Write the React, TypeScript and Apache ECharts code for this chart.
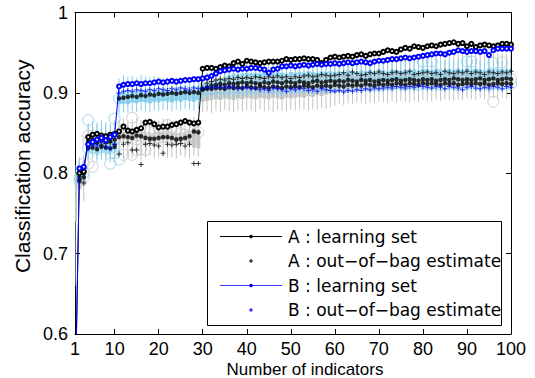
import React, { useEffect, useRef } from "react";
import * as echarts from "echarts";

const X = Array.from({ length: 100 }, (_, i) => i + 1);

const xTicks = [1, 10, 20, 30, 40, 50, 60, 70, 80, 90, 100];

const legendLabels = [
  "A : learning set",
  "A : out\u2212of\u2212bag estimate",
  "B : learning set",
  "B : out\u2212of\u2212bag estimate",
];

// A : learning set
const aLearn = [
  0.5, 0.8, 0.802, 0.845, 0.848, 0.849, 0.847, 0.846, 0.848, 0.849,
  0.852, 0.858, 0.853, 0.852, 0.854, 0.856, 0.863, 0.864, 0.861, 0.857,
  0.858, 0.858, 0.86, 0.861, 0.863, 0.865, 0.863, 0.862, 0.863, 0.93,
  0.931, 0.931, 0.93, 0.932, 0.934, 0.933, 0.937, 0.939, 0.936, 0.94,
  0.939, 0.938, 0.937, 0.938, 0.939, 0.939, 0.939, 0.94, 0.942, 0.941,
  0.942, 0.942, 0.943, 0.942, 0.942, 0.941, 0.937, 0.941, 0.944, 0.945,
  0.944, 0.945, 0.946, 0.945, 0.947, 0.948, 0.946, 0.948, 0.949, 0.949,
  0.951, 0.953, 0.952, 0.951, 0.954, 0.956, 0.955, 0.958, 0.957, 0.956,
  0.958, 0.959, 0.958, 0.96, 0.961, 0.962, 0.963, 0.961, 0.962, 0.958,
  0.961, 0.957, 0.959, 0.96, 0.959, 0.958, 0.959, 0.961, 0.961, 0.96,
];

// B : learning set
const bLearn = [
  0.5, 0.806, 0.808, 0.836, 0.839, 0.842, 0.844, 0.841, 0.845, 0.848,
  0.908, 0.91, 0.911, 0.911, 0.912, 0.911, 0.912, 0.912, 0.913, 0.914,
  0.913, 0.914, 0.915, 0.914, 0.915, 0.916, 0.916, 0.917, 0.917, 0.918,
  0.919, 0.921, 0.924, 0.927, 0.928, 0.929, 0.93, 0.929, 0.93, 0.93,
  0.931, 0.931, 0.93, 0.929, 0.925, 0.929, 0.93, 0.933, 0.933, 0.934,
  0.933, 0.934, 0.935, 0.934, 0.935, 0.936, 0.935, 0.936, 0.936, 0.937,
  0.936, 0.937, 0.938, 0.937, 0.938, 0.939, 0.938, 0.937, 0.939, 0.94,
  0.94, 0.941, 0.942, 0.942, 0.943, 0.944, 0.943, 0.944, 0.945, 0.946,
  0.947, 0.948, 0.949, 0.949, 0.948, 0.95, 0.951, 0.953, 0.952, 0.951,
  0.952, 0.952, 0.951, 0.952, 0.947, 0.953, 0.955, 0.955, 0.955, 0.955,
];

// A : out-of-bag estimate
const aOob = [
  null, 0.792, 0.788, 0.838, 0.836, 0.839, 0.835, 0.837, 0.838, 0.836,
  0.824, 0.836, 0.838, 0.829, 0.829, 0.811, 0.836, 0.837, 0.835, 0.834,
  0.825, 0.836, 0.835, 0.836, 0.837, 0.834, 0.836, 0.812, 0.812, 0.918,
  0.912, 0.914, 0.916, 0.917, 0.916, 0.918, 0.917, 0.919, 0.918, 0.919,
  0.918, 0.92, 0.919, 0.918, 0.92, 0.919, 0.921, 0.919, 0.92, 0.918,
  0.92, 0.919, 0.921, 0.922, 0.92, 0.921, 0.923, 0.922, 0.921, 0.922,
  0.923, 0.925, 0.922, 0.926, 0.924, 0.922, 0.923, 0.925, 0.924, 0.926,
  0.924, 0.923, 0.925, 0.926, 0.924, 0.925, 0.927, 0.923, 0.924, 0.925,
  0.926, 0.924, 0.925, 0.923, 0.927, 0.925, 0.924, 0.926, 0.925, 0.927,
  0.924, 0.926, 0.925, 0.923, 0.926, 0.925, 0.924, 0.926, 0.925, 0.927,
];

// B : out-of-bag estimate
const bOob = [
  null, 0.804, 0.806, 0.832, 0.835, 0.834, 0.838, 0.833, 0.831, 0.836,
  0.9, 0.902, 0.903, 0.902, 0.904, 0.903, 0.902, 0.904, 0.903, 0.905,
  0.904, 0.903, 0.905, 0.904, 0.906, 0.905, 0.904, 0.906, 0.905, 0.906,
  0.907, 0.906, 0.908, 0.907, 0.906, 0.908, 0.907, 0.905, 0.906, 0.907,
  0.905, 0.906, 0.904, 0.905, 0.903, 0.906, 0.905, 0.904, 0.902, 0.905,
  0.904, 0.906, 0.905, 0.903, 0.904, 0.902, 0.905, 0.904, 0.903, 0.902,
  0.903, 0.901, 0.903, 0.902, 0.904, 0.903, 0.905, 0.904, 0.906, 0.905,
  0.906, 0.907, 0.906, 0.908, 0.907, 0.906, 0.908, 0.907, 0.909, 0.908,
  0.907, 0.906, 0.908, 0.907, 0.905, 0.908, 0.907, 0.906, 0.904, 0.907,
  0.908, 0.906, 0.905, 0.907, 0.906, 0.908, 0.907, 0.905, 0.908, 0.907,
];

// A box plots (grey): median, whisker low, box low, box high, whisker high
const aMed = [
  null, 0.79, 0.795, 0.84, 0.842, 0.838, 0.841, 0.843, 0.84, 0.842,
  0.845, 0.846, 0.845, 0.844, 0.847, 0.846, 0.844, 0.843, 0.843, 0.844,
  0.845, 0.845, 0.844, 0.842, 0.843, 0.844, 0.846, 0.852, 0.851, 0.905,
  0.907, 0.909, 0.91, 0.911, 0.91, 0.912, 0.911, 0.912, 0.913, 0.912,
  0.913, 0.912, 0.911, 0.913, 0.912, 0.914, 0.913, 0.912, 0.914, 0.913,
  0.912, 0.914, 0.913, 0.912, 0.914, 0.915, 0.913, 0.914, 0.915, 0.914,
  0.915, 0.914, 0.916, 0.915, 0.914, 0.916, 0.915, 0.916, 0.914, 0.915,
  0.916, 0.915, 0.916, 0.917, 0.915, 0.916, 0.917, 0.916, 0.915, 0.917,
  0.916, 0.917, 0.915, 0.916, 0.917, 0.916, 0.918, 0.917, 0.916, 0.917,
  0.916, 0.917, 0.918, 0.916, 0.917, 0.918, 0.916, 0.917, 0.918, 0.917,
];
const aLo = [
  0.66, 0.765, 0.765, 0.82, 0.822, 0.818, 0.821, 0.82, 0.823, 0.819,
  0.82, 0.818, 0.822, 0.819, 0.821, 0.817, 0.82, 0.822, 0.818, 0.82,
  0.821, 0.819, 0.82, 0.818, 0.822, 0.82, 0.819, 0.822, 0.82, 0.876,
  0.877, 0.875, 0.878, 0.876, 0.879, 0.877, 0.876, 0.878, 0.877, 0.879,
  0.878, 0.876, 0.879, 0.877, 0.878, 0.876, 0.879, 0.878, 0.877, 0.879,
  0.878, 0.88, 0.879, 0.878, 0.88, 0.879, 0.881, 0.88, 0.882, 0.884,
  0.886, 0.885, 0.887, 0.886, 0.888, 0.887, 0.886, 0.888, 0.887, 0.889,
  0.888, 0.887, 0.889, 0.888, 0.89, 0.889, 0.888, 0.89, 0.889, 0.891,
  0.89, 0.889, 0.891, 0.89, 0.892, 0.891, 0.89, 0.892, 0.891, 0.893,
  0.892, 0.891, 0.893, 0.892, 0.894, 0.893, 0.892, 0.894, 0.893, 0.895,
];
const aQ1 = [
  0.74, 0.78, 0.785, 0.836, 0.838, 0.834, 0.837, 0.839, 0.836, 0.838,
  0.841, 0.842, 0.841, 0.84, 0.843, 0.842, 0.84, 0.839, 0.839, 0.84,
  0.841, 0.841, 0.84, 0.838, 0.839, 0.84, 0.838, 0.832, 0.831, 0.889,
  0.89, 0.891, 0.892, 0.891, 0.893, 0.892, 0.891, 0.893, 0.892, 0.894,
  0.893, 0.892, 0.894, 0.893, 0.892, 0.894, 0.893, 0.892, 0.894, 0.893,
  0.894, 0.895, 0.894, 0.896, 0.895, 0.897, 0.896, 0.898, 0.899, 0.9,
  0.901, 0.902, 0.901, 0.903, 0.902, 0.904, 0.903, 0.902, 0.904, 0.903,
  0.904, 0.905, 0.904, 0.906, 0.905, 0.904, 0.906, 0.905, 0.906, 0.907,
  0.906, 0.907, 0.906, 0.908, 0.907, 0.906, 0.908, 0.907, 0.906, 0.908,
  0.907, 0.908, 0.907, 0.906, 0.908, 0.907, 0.908, 0.907, 0.906, 0.908,
];
const aQ3 = [
  0.79, 0.8, 0.802, 0.846, 0.847, 0.843, 0.846, 0.848, 0.845, 0.847,
  0.85, 0.851, 0.85, 0.849, 0.852, 0.851, 0.849, 0.848, 0.848, 0.849,
  0.85, 0.85, 0.849, 0.847, 0.848, 0.849, 0.851, 0.856, 0.855, 0.906,
  0.907, 0.906, 0.908, 0.907, 0.909, 0.908, 0.907, 0.909, 0.908, 0.91,
  0.909, 0.908, 0.91, 0.909, 0.908, 0.91, 0.909, 0.908, 0.91, 0.909,
  0.91, 0.911, 0.91, 0.912, 0.911, 0.913, 0.912, 0.914, 0.915, 0.916,
  0.917, 0.918, 0.917, 0.919, 0.918, 0.92, 0.919, 0.918, 0.92, 0.919,
  0.92, 0.921, 0.92, 0.922, 0.921, 0.92, 0.922, 0.921, 0.922, 0.923,
  0.922, 0.923, 0.922, 0.924, 0.923, 0.922, 0.924, 0.923, 0.922, 0.924,
  0.923, 0.924, 0.923, 0.922, 0.924, 0.923, 0.924, 0.923, 0.922, 0.924,
];
const aHi = [
  0.8, 0.812, 0.815, 0.862, 0.858, 0.86, 0.863, 0.861, 0.859, 0.862,
  0.866, 0.868, 0.865, 0.867, 0.869, 0.866, 0.868, 0.865, 0.867, 0.866,
  0.868, 0.867, 0.865, 0.866, 0.868, 0.867, 0.866, 0.87, 0.868, 0.922,
  0.924, 0.923, 0.925, 0.924, 0.926, 0.925, 0.924, 0.926, 0.925, 0.927,
  0.926, 0.925, 0.927, 0.926, 0.925, 0.927, 0.926, 0.925, 0.927, 0.926,
  0.928, 0.929, 0.928, 0.93, 0.929, 0.931, 0.93, 0.932, 0.933, 0.935,
  0.937, 0.939, 0.938, 0.94, 0.941, 0.942, 0.941, 0.943, 0.942, 0.944,
  0.943, 0.945, 0.944, 0.946, 0.945, 0.944, 0.946, 0.947, 0.946, 0.948,
  0.947, 0.949, 0.948, 0.947, 0.949, 0.948, 0.95, 0.949, 0.948, 0.95,
  0.949, 0.95, 0.949, 0.948, 0.95, 0.949, 0.95, 0.949, 0.948, 0.95,
];

// B box plots (light blue)
const bMed = [
  null, 0.795, 0.8, 0.831, 0.832, 0.83, 0.833, 0.832, 0.831, 0.833,
  0.893, 0.894, 0.895, 0.896, 0.895, 0.897, 0.896, 0.898, 0.897, 0.899,
  0.898, 0.899, 0.9, 0.899, 0.9, 0.901, 0.9, 0.901, 0.9, 0.904,
  0.905, 0.905, 0.906, 0.906, 0.905, 0.907, 0.906, 0.907, 0.906, 0.908,
  0.907, 0.906, 0.908, 0.907, 0.906, 0.908, 0.907, 0.906, 0.908, 0.907,
  0.908, 0.907, 0.909, 0.908, 0.907, 0.909, 0.908, 0.909, 0.908, 0.91,
  0.909, 0.908, 0.91, 0.909, 0.91, 0.909, 0.911, 0.91, 0.909, 0.911,
  0.91, 0.911, 0.91, 0.912, 0.911, 0.91, 0.912, 0.911, 0.91, 0.912,
  0.911, 0.912, 0.911, 0.91, 0.912, 0.911, 0.912, 0.91, 0.911, 0.912,
  0.911, 0.912, 0.911, 0.912, 0.91, 0.911, 0.912, 0.911, 0.912, 0.911,
];
const bLo = [
  0.78, 0.782, 0.785, 0.815, 0.818, 0.814, 0.817, 0.816, 0.813, 0.818,
  0.874, 0.876, 0.875, 0.877, 0.876, 0.878, 0.877, 0.876, 0.878, 0.877,
  0.879, 0.878, 0.877, 0.879, 0.878, 0.88, 0.879, 0.878, 0.88, 0.89,
  0.892, 0.894, 0.893, 0.895, 0.894, 0.896, 0.895, 0.894, 0.896, 0.895,
  0.897, 0.896, 0.895, 0.897, 0.896, 0.898, 0.897, 0.896, 0.898, 0.897,
  0.898, 0.897, 0.899, 0.898, 0.897, 0.899, 0.898, 0.899, 0.898, 0.9,
  0.899, 0.898, 0.9, 0.899, 0.9, 0.899, 0.901, 0.9, 0.899, 0.901,
  0.9, 0.901, 0.9, 0.902, 0.901, 0.9, 0.902, 0.901, 0.9, 0.902,
  0.901, 0.902, 0.901, 0.9, 0.902, 0.901, 0.902, 0.9, 0.901, 0.902,
  0.901, 0.902, 0.901, 0.902, 0.9, 0.901, 0.902, 0.901, 0.902, 0.901,
];
const bQ1 = [
  0.785, 0.79, 0.792, 0.826, 0.827, 0.825, 0.828, 0.827, 0.826, 0.828,
  0.886, 0.887, 0.886, 0.888, 0.887, 0.889, 0.888, 0.887, 0.889, 0.888,
  0.89, 0.889, 0.888, 0.89, 0.889, 0.891, 0.89, 0.889, 0.891, 0.9,
  0.903, 0.905, 0.906, 0.908, 0.909, 0.911, 0.912, 0.911, 0.912, 0.913,
  0.912, 0.913, 0.912, 0.914, 0.913, 0.912, 0.914, 0.913, 0.912, 0.914,
  0.913, 0.914, 0.913, 0.915, 0.914, 0.913, 0.915, 0.914, 0.915, 0.914,
  0.915, 0.914, 0.916, 0.915, 0.914, 0.916, 0.915, 0.916, 0.915, 0.917,
  0.916, 0.915, 0.917, 0.916, 0.915, 0.917, 0.916, 0.917, 0.916, 0.918,
  0.917, 0.916, 0.918, 0.917, 0.916, 0.918, 0.917, 0.918, 0.917, 0.918,
  0.917, 0.918, 0.917, 0.916, 0.918, 0.917, 0.918, 0.917, 0.918, 0.917,
];
const bQ3 = [
  0.8, 0.805, 0.808, 0.84, 0.841, 0.839, 0.842, 0.841, 0.84, 0.842,
  0.9, 0.901, 0.9, 0.902, 0.901, 0.903, 0.902, 0.901, 0.903, 0.902,
  0.904, 0.903, 0.902, 0.904, 0.903, 0.905, 0.904, 0.903, 0.905, 0.91,
  0.912, 0.914, 0.916, 0.918, 0.92, 0.922, 0.924, 0.923, 0.924, 0.925,
  0.924, 0.925, 0.924, 0.926, 0.925, 0.924, 0.926, 0.925, 0.924, 0.926,
  0.925, 0.926, 0.925, 0.927, 0.926, 0.925, 0.927, 0.926, 0.927, 0.926,
  0.927, 0.926, 0.928, 0.927, 0.926, 0.928, 0.927, 0.928, 0.927, 0.929,
  0.928, 0.927, 0.929, 0.928, 0.927, 0.929, 0.928, 0.929, 0.928, 0.93,
  0.929, 0.928, 0.93, 0.929, 0.928, 0.93, 0.929, 0.93, 0.929, 0.93,
  0.929, 0.93, 0.929, 0.928, 0.93, 0.929, 0.93, 0.929, 0.93, 0.929,
];
const bHi = [
  0.81, 0.82, 0.822, 0.862, 0.865, 0.863, 0.866, 0.864, 0.862, 0.865,
  0.918, 0.922, 0.92, 0.921, 0.919, 0.922, 0.92, 0.919, 0.921, 0.92,
  0.918, 0.919, 0.917, 0.918, 0.916, 0.918, 0.917, 0.916, 0.918, 0.922,
  0.925, 0.928, 0.93, 0.932, 0.933, 0.935, 0.936, 0.935, 0.936, 0.937,
  0.936, 0.937, 0.936, 0.938, 0.937, 0.936, 0.938, 0.937, 0.936, 0.938,
  0.937, 0.938, 0.937, 0.939, 0.938, 0.937, 0.939, 0.938, 0.939, 0.938,
  0.939, 0.938, 0.94, 0.939, 0.938, 0.94, 0.939, 0.94, 0.939, 0.941,
  0.94, 0.939, 0.941, 0.94, 0.939, 0.941, 0.94, 0.941, 0.94, 0.942,
  0.941, 0.94, 0.942, 0.941, 0.94, 0.942, 0.941, 0.942, 0.941, 0.942,
  0.941, 0.942, 0.941, 0.94, 0.942, 0.941, 0.942, 0.941, 0.942, 0.941,
];

// outliers [x, accuracy]
const aOut = [
  [3, 0.812], [4, 0.847], [4, 0.812], [5, 0.808], [6, 0.843], [12, 0.855],
  [12, 0.823], [14, 0.823], [14, 0.869], [15, 0.829], [16, 0.83], [17, 0.829],
  [18, 0.852], [19, 0.851], [20, 0.856], [21, 0.853], [22, 0.86], [23, 0.857],
  [24, 0.855], [25, 0.85], [26, 0.848], [96, 0.889], [98, 0.938],
];
const bOut = [
  [4, 0.866], [10, 0.868], [9, 0.812], [11, 0.817], [10, 0.825], [80, 0.939],
  [82, 0.939], [90, 0.939], [91, 0.939], [96, 0.937],
];

const GREY = "#c4c4c4";
const SKY = "#87ceeb";
const FONT = "DejaVu Sans";
const FONT2 = "Liberation Sans";
const PLUS = "path://M2,0H3V2H5V3H3V5H2V3H0V2H2Z";

function pairs(vals: (number | null)[]) {
  const out: number[][] = [];
  vals.forEach((v, i) => {
    if (v !== null) out.push([X[i], v]);
  });
  return out;
}

function boxSeries(lo: number[], q1: number[], q3: number[], hi: number[], color: string) {
  return {
    type: "custom",
    clip: true,
    silent: true,
    data: X.map((x, i) => [x, lo[i], q1[i], q3[i], hi[i]]),
    encode: { x: 0, y: [1, 2, 3, 4] },
    renderItem: (params: any, api: any) => {
      const x = api.value(0);
      const pLo = api.coord([x, api.value(1)]);
      const pQ1 = api.coord([x, api.value(2)]);
      const pQ3 = api.coord([x, api.value(3)]);
      const pHi = api.coord([x, api.value(4)]);
      return {
        type: "group",
        children: [
          {
            type: "line",
            shape: { x1: pLo[0], y1: pLo[1], x2: pHi[0], y2: pHi[1] },
            style: { stroke: color, lineWidth: 1 },
          },
          {
            type: "line",
            shape: { x1: pQ1[0], y1: pQ1[1], x2: pQ3[0], y2: pQ3[1] },
            style: { stroke: color, lineWidth: 4 },
          },
        ],
      };
    },
  };
}

function ringSeries(data: number[][], color: string) {
  return {
    type: "scatter",
    silent: true,
    data,
    symbol: "circle",
    symbolSize: 11,
    itemStyle: { color: "rgba(255,255,255,0)", borderColor: color, borderWidth: 1 },
  };
}

export default function App() {
  const ref = useRef<HTMLDivElement>(null);
  useEffect(() => {
    if (!ref.current) return;
    const chart = echarts.init(ref.current, null, { renderer: "svg" });
    const rowY = [236.5, 261, 285.5, 310];
    const legendEls: any[] = [
      {
        type: "rect",
        shape: { x: 207.5, y: 221.5, width: 294, height: 104 },
        style: { fill: "#fff", stroke: "#000", lineWidth: 1 },
        z: 100,
      },
    ];
    legendLabels.forEach((label, k) => {
      const y = rowY[k];
      const color = k < 2 ? "#000" : "#0000ff";
      if (k % 2 === 0) {
        legendEls.push({
          type: "line",
          shape: { x1: 220, y1: y, x2: 282, y2: y },
          style: { stroke: k === 0 ? "#000" : "#3a3aff", lineWidth: 1 },
          z: 101,
        });
        legendEls.push({
          type: "circle",
          shape: { cx: 251, cy: y, r: 1.8 },
          style: { fill: color },
          z: 102,
        });
      } else {
        legendEls.push({
          type: "rect",
          shape: { x: 250.5, y: y - 2, width: 1, height: 4 },
          style: { fill: color },
          z: 102,
        });
        legendEls.push({
          type: "rect",
          shape: { x: 249, y: y - 0.5, width: 4, height: 1 },
          style: { fill: color },
          z: 102,
        });
      }
      legendEls.push({
        type: "text",
        x: 288,
        y,
        style: {
          text: label,
          fill: "#000",
          font: `17px "${FONT}"`,
          verticalAlign: "middle",
          align: "left",
        },
        z: 102,
      });
    });

    const axisCommon = {
      type: "value",
      nameMoveOverlap: false,
      axisLine: { show: true, onZero: false, lineStyle: { color: "#000", width: 1 } },
      splitLine: { show: false },
    };

    chart.setOption({
      animation: false,
      grid: {
        left: 75,
        right: 24,
        top: 12.5,
        bottom: 44,
        containLabel: false,
        outerBoundsMode: "none",
      },
      xAxis: [
        {
          ...axisCommon,
          position: "bottom",
          min: 1,
          max: 100,
          axisTick: { inside: true, length: 5, customValues: xTicks, lineStyle: { color: "#000" } },
          axisLabel: {
            customValues: xTicks,
            color: "#000",
            fontSize: 18,
            fontFamily: FONT2,
            margin: 6,
          },
          name: "Number of indicators",
          nameLocation: "middle",
          nameGap: 27,
          nameTextStyle: {
            color: "#000",
            fontSize: 17,
            fontFamily: FONT2,
            padding: [0, 0, 0, 24],
          },
        },
        {
          ...axisCommon,
          position: "top",
          min: 1,
          max: 100,
          axisTick: { inside: true, length: 5, customValues: xTicks, lineStyle: { color: "#000" } },
          axisLabel: { show: false },
        },
      ],
      yAxis: [
        {
          ...axisCommon,
          position: "left",
          min: 0.6,
          max: 1,
          interval: 0.1,
          axisTick: { inside: true, length: 5, lineStyle: { color: "#000" } },
          axisLabel: {
            color: "#000",
            fontSize: 18,
            fontFamily: FONT2,
            margin: 7,
            formatter: (v: number) => String(parseFloat(v.toFixed(1))),
          },
          name: "Classification accuracy",
          nameLocation: "middle",
          nameGap: 42,
          nameTextStyle: {
            color: "#000",
            fontSize: 21,
            fontFamily: FONT2,
            padding: [0, 0, 0, 14],
          },
        },
        {
          ...axisCommon,
          position: "right",
          min: 0.6,
          max: 1,
          interval: 0.1,
          axisTick: { inside: true, length: 5, lineStyle: { color: "#000" } },
          axisLabel: { show: false },
        },
      ],
      series: [
        boxSeries(aLo, aQ1, aQ3, aHi, GREY),
        ringSeries(pairs(aMed), GREY),
        ringSeries(aOut, GREY),
        boxSeries(bLo, bQ1, bQ3, bHi, SKY),
        ringSeries(pairs(bMed), SKY),
        ringSeries(bOut, SKY),
        {
          type: "scatter",
          silent: true,
          data: pairs(aMed).concat(pairs(bMed)),
          symbol: "circle",
          symbolSize: 4.5,
          itemStyle: { color: "#000" },
        },
        {
          type: "scatter",
          silent: true,
          data: pairs(aOob),
          symbol: PLUS,
          symbolSize: 5,
          itemStyle: { color: "#000" },
        },
        {
          type: "scatter",
          silent: true,
          data: pairs(bOob),
          symbol: PLUS,
          symbolSize: 5,
          itemStyle: { color: "#0000ff" },
        },
        {
          type: "line",
          silent: true,
          clip: true,
          data: pairs(aLearn),
          symbol: "emptyCircle",
          symbolSize: 4,
          showSymbol: true,
          lineStyle: { color: "#000", width: 1 },
          itemStyle: { color: "#000", borderColor: "#000", borderWidth: 1 },
        },
        {
          type: "line",
          silent: true,
          clip: true,
          data: pairs(bLearn),
          symbol: "emptyCircle",
          symbolSize: 4,
          showSymbol: true,
          lineStyle: { color: "#0000ff", width: 1 },
          itemStyle: { color: "#0000ff", borderColor: "#0000ff", borderWidth: 1 },
        },
      ],
      graphic: legendEls,
    });
    return () => chart.dispose();
  }, []);
  return (
    <div
      ref={ref}
      style={{ position: "fixed", left: 0, top: 0, width: 535, height: 378, background: "#fff" }}
    />
  );
}
